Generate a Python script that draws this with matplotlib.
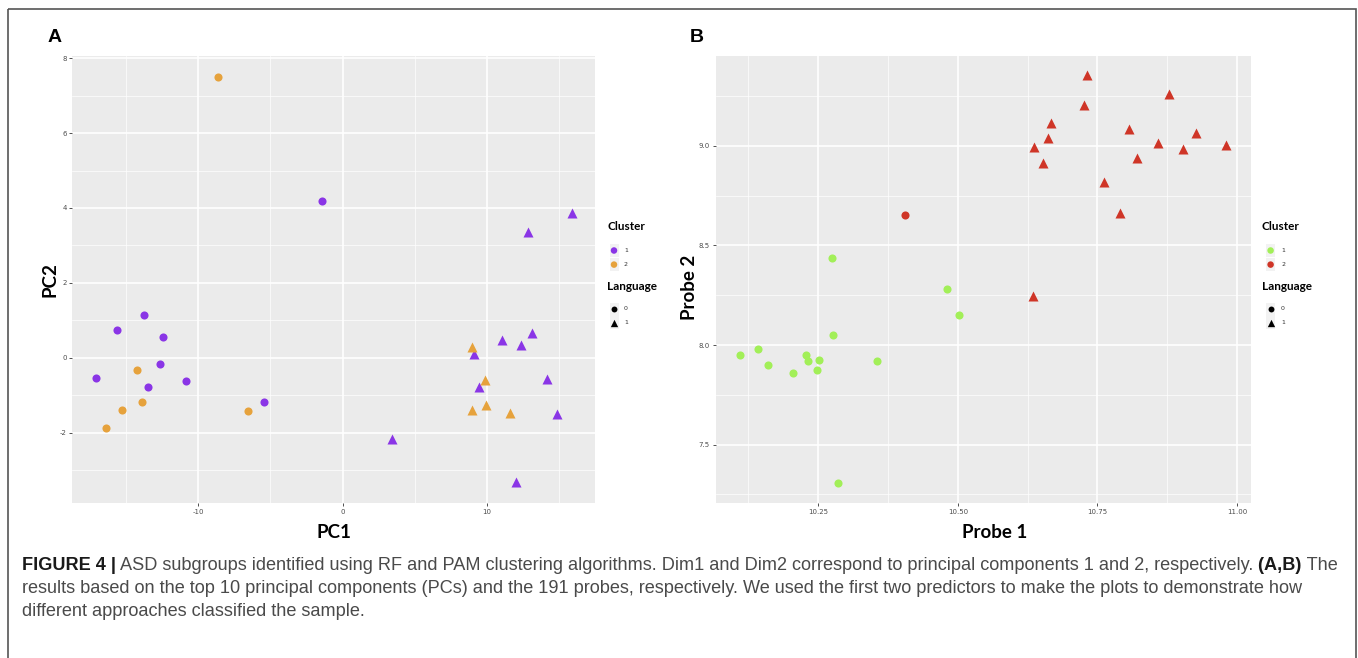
import matplotlib
matplotlib.use("Agg")
import matplotlib.pyplot as plt
from matplotlib.patches import Rectangle
import matplotlib.font_manager as fm

# ---------------- data ----------------
# Panel A: PCA (PC1, PC2)
a_c1_l0_x = [-1.44, -13.75, -15.59, -12.40, -12.61, -17.09, -13.45, -10.87, -5.44]
a_c1_l0_y = [4.18, 1.14, 0.73, 0.56, -0.16, -0.54, -0.79, -0.61, -1.18]
a_c2_l0_x = [-8.65, -14.23, -13.90, -15.29, -16.34, -6.58]
a_c2_l0_y = [7.51, -0.34, -1.19, -1.40, -1.88, -1.43]
a_c1_l1_x = [15.89, 12.85, 13.12, 11.02, 12.37, 9.07, 14.14, 9.46, 14.83, 3.42, 11.98]
a_c1_l1_y = [3.86, 3.36, 0.67, 0.47, 0.35, 0.09, -0.57, -0.78, -1.51, -2.17, -3.33]
a_c2_l1_x = [8.95, 9.85, 8.95, 9.94, 11.59]
a_c2_l1_y = [0.30, -0.60, -1.40, -1.27, -1.48]

# Panel B: probes (Probe 1, Probe 2)
b_c1_l0_x = [10.109, 10.142, 10.160, 10.204, 10.228, 10.231, 10.252, 10.248,
             10.275, 10.276, 10.356, 10.286, 10.481, 10.502]
b_c1_l0_y = [7.948, 7.979, 7.902, 7.858, 7.951, 7.919, 7.926, 7.877,
             8.436, 8.050, 7.921, 7.308, 8.281, 8.150]
b_c2_l0_x = [10.405]
b_c2_l0_y = [8.651]
b_c2_l1_x = [10.731, 10.726, 10.878, 10.666, 10.661, 10.636, 10.653, 10.806,
             10.926, 10.859, 10.903, 10.981, 10.821, 10.761, 10.791, 10.634]
b_c2_l1_y = [9.358, 9.206, 9.261, 9.113, 9.039, 8.995, 8.912, 9.085,
             9.065, 9.016, 8.982, 9.004, 8.937, 8.818, 8.665, 8.247]

a_xticks = [-10, 0, 10]
a_xtick_labels = ["-10", "0", "10"]
a_yticks = [-2, 0, 2, 4, 6, 8]
a_ytick_labels = ["-2", "0", "2", "4", "6", "8"]
b_xticks = [10.25, 10.50, 10.75, 11.00]
b_xtick_labels = ["10.25", "10.50", "10.75", "11.00"]
b_yticks = [7.5, 8.0, 8.5, 9.0]
b_ytick_labels = ["7.5", "8.0", "8.5", "9.0"]

cluster_labels = ["1", "2"]
language_labels = ["0", "1"]

caption_line1 = [("FIGURE 4 |", True),
                 (" ASD subgroups identified using RF and PAM clustering algorithms. Dim1 and Dim2 correspond to principal components 1 and 2, respectively.", False),
                 (" (A,B)", True), (" The", False)]
caption_line2 = [("results based on the top 10 principal components (PCs) and the 191 probes, respectively. We used the first two predictors to make the plots to demonstrate how", False)]
caption_line3 = [("different approaches classified the sample.", False)]

# ---------------- style ----------------
PURPLE = "#8A35E6"
ORANGE = "#E6A23C"
GREEN = "#A2EF58"
RED = "#CF3527"
PANEL_BG = "#EBEBEB"
W, H = 1358, 658

fig = plt.figure(figsize=(W / 100, H / 100), dpi=100)
fig.patch.set_facecolor("white")

TITLE_FONT = ["Lato", "DejaVu Sans"]


def px_axes(left, top, right, bottom):
    return fig.add_axes([left / W, (H - bottom) / H, (right - left) / W, (bottom - top) / H])


def style_axes(ax, xlim, ylim, xmaj, xmin, ymaj, ymin, xlabels, ylabels):
    ax.set_facecolor(PANEL_BG)
    ax.set_xlim(*xlim)
    ax.set_ylim(*ylim)
    for s in ax.spines.values():
        s.set_visible(False)
    ax.set_xticks(xmaj)
    ax.set_xticklabels(xlabels)
    ax.set_yticks(ymaj)
    ax.set_yticklabels(ylabels)
    ax.set_xticks(xmin, minor=True)
    ax.set_yticks(ymin, minor=True)
    ax.grid(which="major", color="white", linewidth=1.2, zorder=0)
    ax.grid(which="minor", color="white", linewidth=0.5, zorder=0)
    ax.set_axisbelow(True)
    ax.tick_params(which="major", length=2, width=0.6, color="#333333",
                   labelsize=5, labelcolor="#4d4d4d", pad=2)
    ax.tick_params(which="minor", length=0)


CS, TS = 34, 52

# Panel A
axA = px_axes(72.4, 56, 595.4, 503)
style_axes(axA, (-18.7, 17.5), (-3.88, 8.06), a_xticks, [-15, -5, 5, 15],
           a_yticks, [-3, -1, 1, 3, 5, 7], a_xtick_labels, a_ytick_labels)
axA.scatter(a_c1_l0_x, a_c1_l0_y, s=CS, marker="o", color=PURPLE, linewidths=0, zorder=3)
axA.scatter(a_c2_l0_x, a_c2_l0_y, s=CS, marker="o", color=ORANGE, linewidths=0, zorder=3)
axA.scatter(a_c1_l1_x, a_c1_l1_y, s=TS, marker="^", color=PURPLE, linewidths=0, zorder=3)
axA.scatter(a_c2_l1_x, a_c2_l1_y, s=TS, marker="^", color=ORANGE, linewidths=0, zorder=3)

# Panel B
axB = px_axes(715.5, 56, 1251, 503)
style_axes(axB, (10.066, 11.025), (7.207, 9.451), b_xticks,
           [10.125, 10.375, 10.625, 10.875], b_yticks,
           [7.25, 7.75, 8.25, 8.75, 9.25], b_xtick_labels, b_ytick_labels)
axB.scatter(b_c1_l0_x, b_c1_l0_y, s=CS, marker="o", color=GREEN, linewidths=0, zorder=3)
axB.scatter(b_c2_l0_x, b_c2_l0_y, s=CS, marker="o", color=RED, linewidths=0, zorder=3)
axB.scatter(b_c2_l1_x, b_c2_l1_y, s=TS, marker="^", color=RED, linewidths=0, zorder=3)

# overlay in pixel coordinates for text, legends, border, caption
ov = fig.add_axes([0, 0, 1, 1], zorder=10)
ov.set_xlim(0, W)
ov.set_ylim(H, 0)
ov.axis("off")
ov.patch.set_alpha(0)

# border
ov.add_patch(Rectangle((8, 8.5), 1347.5, 700, fill=False, edgecolor="#555555", linewidth=1.2))

# panel letters
ov.text(55, 38, "A", fontsize=14, fontweight="bold", family="Liberation Sans", ha="center", va="center", color="black")
ov.text(697, 38, "B", fontsize=14, fontweight="bold", family="Liberation Sans", ha="center", va="center", color="black")

# axis titles
ov.text(334, 533, "PC1", fontsize=13.5, fontweight="bold", family=TITLE_FONT, ha="center", va="center")
ov.text(50, 280, "PC2", fontsize=13.5, fontweight="bold", family=TITLE_FONT, ha="center", va="center", rotation=90)
ov.text(995, 533, "Probe 1", fontsize=13.5, fontweight="bold", family=TITLE_FONT, ha="center", va="center")
ov.text(689.5, 287, "Probe 2", fontsize=13.5, fontweight="bold", family=TITLE_FONT, ha="center", va="center", rotation=90)


def legend(x_title, key_x, lab_x, c1, c2):
    ov.text(x_title, 226, "Cluster", fontsize=8.5, fontweight="bold", family=TITLE_FONT, ha="left", va="center")
    ov.text(x_title, 286, "Language", fontsize=8.5, fontweight="bold", family=TITLE_FONT, ha="left", va="center")
    for yy in (250.5, 264.6, 309, 322.5):
        ov.add_patch(Rectangle((key_x - 4.5, yy - 6.5), 9, 13, facecolor="#F2F2F2", edgecolor="none"))
    ov.scatter([key_x, key_x], [250.5, 264.6], s=22, marker="o", c=[c1, c2], linewidths=0, zorder=12)
    ov.scatter([key_x], [309], s=18, marker="o", c="black", linewidths=0, zorder=12)
    ov.scatter([key_x], [322.5], s=28, marker="^", c="black", linewidths=0, zorder=12)
    for yy, lab in zip((250.5, 264.6), cluster_labels):
        ov.text(lab_x, yy, lab, fontsize=4.5, color="#333333", ha="left", va="center")
    for yy, lab in zip((309, 322.5), language_labels):
        ov.text(lab_x, yy, lab, fontsize=4.5, color="#333333", ha="left", va="center")


legend(607, 614, 624, PURPLE, ORANGE)
legend(1262, 1270.6, 1281, GREEN, RED)

# caption
renderer = fig.canvas.get_renderer()
names = {f.name for f in fm.fontManager.ttflist}
CAP_FONT = (["Liberation Sans Narrow", "Liberation Sans", "DejaVu Sans"]
            if "Liberation Sans Narrow" in names else ["Liberation Sans", "DejaVu Sans"])


def rich_line(x, y, segments, size, keep=True):
    made = []
    for txt, bold in segments:
        t = ov.text(x, y, txt, fontsize=size, fontweight="bold" if bold else "normal",
                    family=CAP_FONT if not bold else ["Liberation Sans", "DejaVu Sans"],
                    color="#1a1a1a" if bold else "#4a4a4a", ha="left", va="center")
        bb = t.get_window_extent(renderer)
        x += bb.width
        made.append(t)
    if not keep:
        for t in made:
            t.remove()
    return x


tmp_end = rich_line(22, 565, caption_line1, 11.0, keep=False)
cap_size = 11.0 * (1338 - 22) / (tmp_end - 22)

rich_line(22, 565, caption_line1, cap_size)
rich_line(22, 588.5, caption_line2, cap_size)
rich_line(22, 612, caption_line3, cap_size)

fig.savefig("out.png", dpi=100, facecolor="white")
